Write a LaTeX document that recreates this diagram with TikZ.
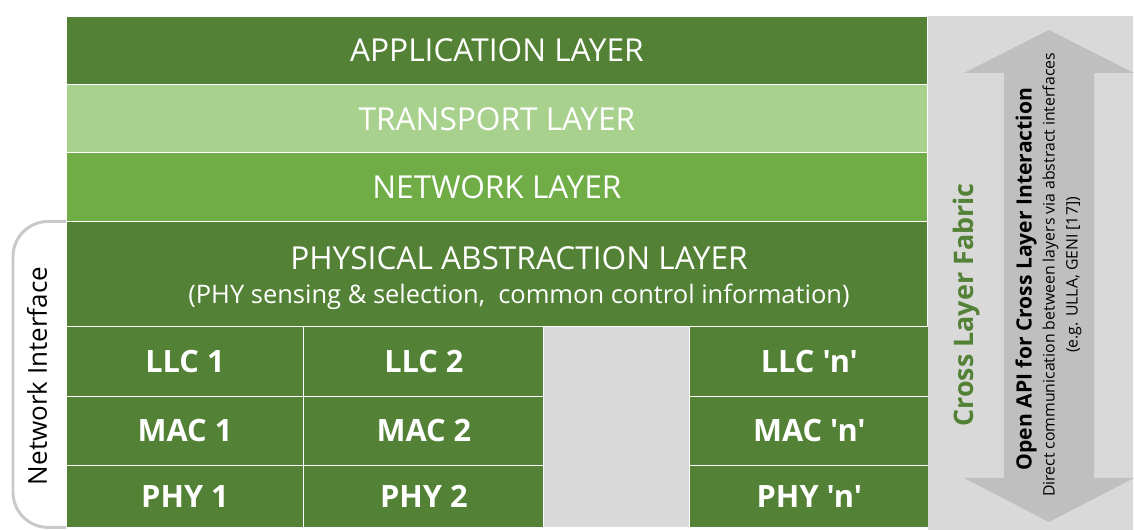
\documentclass[tikz,border=0pt]{standalone}
\usepackage{fontspec}
\setmainfont{Open Sans}[Ligatures=TeXOff]
\usetikzlibrary{positioning}
\definecolor{darkgreen}{HTML}{538135}
\definecolor{lightgreen}{HTML}{A9D18E}
\definecolor{midgreen}{HTML}{70AD47}
\definecolor{panelgray}{HTML}{D9D9D9}
\definecolor{arrowgray}{HTML}{BFBFBF}

\begin{document}
\begin{tikzpicture}[x=0.02cm, y=-0.02cm,
    layer/.style={rectangle, draw=white, line width=0.6pt, outer sep=0pt, inner sep=0pt, minimum width=17.24cm, minimum height=1.37cm, text=white, align=center, font=\fontsize{18}{20}\selectfont},
    cell/.style={rectangle, draw=white, line width=0.6pt, outer sep=0pt, inner sep=0pt, fill=darkgreen, minimum height=1.38cm, text=white, font=\bfseries\fontsize{17.5}{19}\selectfont},
    vtext/.style={rotate=90, align=center}
  ]
    \useasboundingbox (0,0) rectangle (1134,530);

    % layer stack
    \node[layer, fill=darkgreen, anchor=north west] (app) at (66,16) {APPLICATION LAYER};
    \node[layer, fill=lightgreen, below=0pt of app] (transport) {TRANSPORT LAYER};
    \node[layer, fill=midgreen, below=0pt of transport] (network) {NETWORK LAYER};
    \node[layer, fill=darkgreen, below=0pt of network, minimum height=2.1cm] (pal) {};
    \node[text=white, font=\fontsize{18}{20}\selectfont] (paltitle) at (519,258) {PHYSICAL ABSTRACTION LAYER};
    \node[text=white, font=\fontsize{14.5}{16}\selectfont] (palnote) at (519,297) {(PHY sensing \& selection,~ common control information)};

    % per-interface cells
    \node[cell, anchor=north west, minimum width=4.76cm, minimum height=1.4cm] (llc1) at (pal.south west) {LLC 1};
    \node[cell, right=0pt of llc1, minimum width=4.8cm, minimum height=1.4cm] (llc2) {LLC 2};
    \node[cell, fill=panelgray, anchor=north west, minimum width=2.92cm, minimum height=4.02cm] (gap) at (llc2.north east) {};
    \node[cell, anchor=north west, minimum width=4.78cm, minimum height=1.4cm] (llcn) at (gap.north east) {LLC 'n'};
    \node[cell, below=0pt of llc1, minimum width=4.76cm] (mac1) {MAC 1};
    \node[cell, below=0pt of llc2, minimum width=4.8cm] (mac2) {MAC 2};
    \node[cell, below=0pt of llcn, minimum width=4.78cm] (macn) {MAC 'n'};
    \node[cell, below=0pt of mac1, minimum width=4.76cm, minimum height=1.24cm] (phy1) {PHY 1};
    \node[cell, below=0pt of mac2, minimum width=4.8cm, minimum height=1.24cm] (phy2) {PHY 2};
    \node[cell, below=0pt of macn, minimum width=4.78cm, minimum height=1.24cm] (phyn) {PHY 'n'};

    % cross layer fabric
    \node[rectangle, fill=panelgray, outer sep=0pt, inner sep=0pt, anchor=north west, minimum width=4.1cm, minimum height=10.28cm] (fabric) at (app.north east) {};
    \fill[arrowgray] (1049,30) -- (1134,73) -- (1094,73) -- (1094,478) -- (1134,478) -- (1049,522)
      -- (964,478) -- (1004,478) -- (1004,73) -- (964,73) -- cycle;
    \node[vtext, text=darkgreen, font=\bfseries\fontsize{15.3}{17}\selectfont] (fabrictitle) at (967,305) {Cross Layer Fabric};
    \node[vtext, font=\bfseries\fontsize{12}{14}\selectfont] (api) at (1026,279) {Open API for Cross Layer Interaction};
    \node[vtext, font=\fontsize{9}{13}\selectfont] (apinote) at (1062,275) {Direct communication between layers via abstract interfaces\\(e.g. ULLA, GENI [17])};

    % network interface bracket
    \draw[arrowgray!85, line width=1.7pt, rounded corners=20pt] (pal.north west) -- ++(-53,0) |- (phy1.south west);
    \node[vtext, font=\fontsize{14.8}{16}\selectfont] (nic) at (37,376) {Network Interface};
  \end{tikzpicture}
\end{document}
